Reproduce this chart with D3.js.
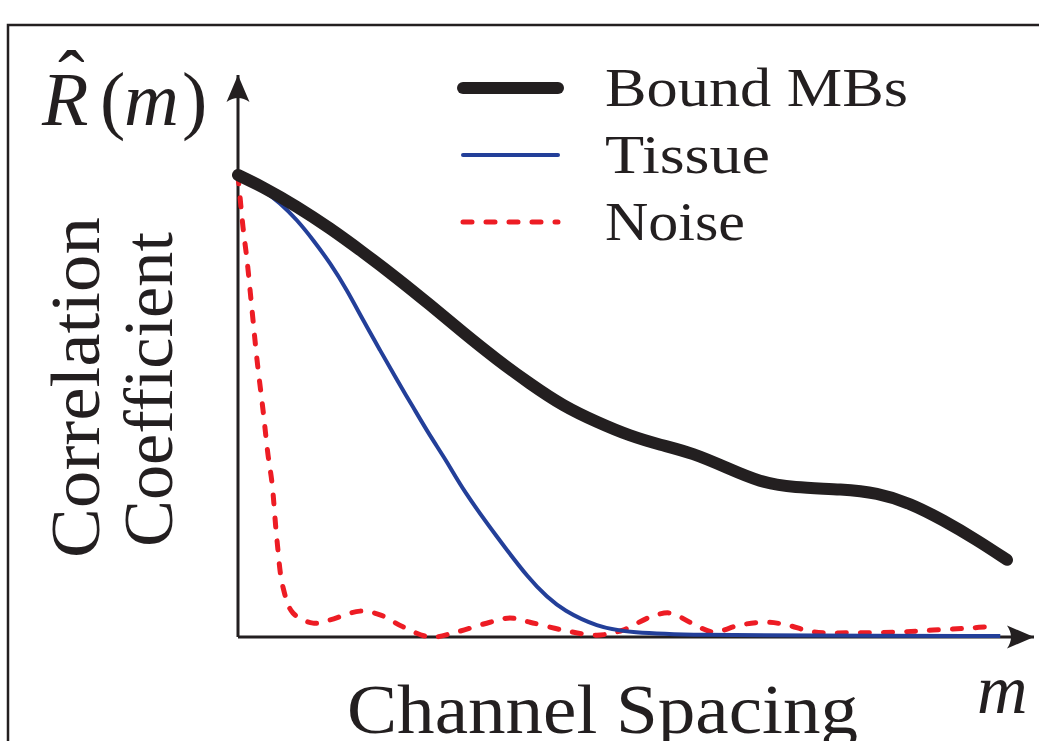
<!DOCTYPE html>
<html>
<head>
<meta charset="utf-8">
<script src="https://cdn.jsdelivr.net/npm/d3@7"></script>
<style>
  body { margin: 0; background: #fff; }
  text { font-family: "Liberation Serif", "Times New Roman", serif; fill: #231f20; }
</style>
</head>
<body>
<div id="chart"></div>
<script>
// Series: channel spacing m (0..100, arbitrary units) and correlation coefficient
const boundM = [0, 3.25, 7.66, 11.95, 16.23, 20.65, 24.94, 29.22, 33.64, 37.92, 42.21, 46.62, 50.91, 54.81, 59.09, 63.51, 67.79, 72.08, 78.57, 82.99, 87.27, 91.56, 95.97, 99.87];
const boundR = [1.0, 0.974, 0.932, 0.885, 0.833, 0.777, 0.719, 0.659, 0.600, 0.548, 0.500, 0.465, 0.435, 0.416, 0.398, 0.366, 0.335, 0.323, 0.320, 0.312, 0.290, 0.253, 0.210, 0.167];

const tissueM = [0, 3.25, 5.45, 7.66, 9.74, 11.95, 14.16, 16.23, 18.44, 20.65, 22.73, 24.94, 27.14, 29.22, 33.64, 37.92, 40.13, 42.21, 46.62, 50.91, 60, 73, 99];
const tissueR = [1.0, 0.968, 0.940, 0.903, 0.860, 0.810, 0.751, 0.686, 0.621, 0.556, 0.498, 0.435, 0.380, 0.318, 0.216, 0.123, 0.087, 0.058, 0.022, 0.009, 0.004, 0.003, 0.002];

const noiseM = [0, 0.65, 1.17, 1.82, 2.47, 3.25, 3.9, 4.42, 5.06, 5.84, 7.14, 9.74, 11.95, 15.84, 18.44, 21.43, 24.94, 28.44, 32.73, 35.32, 37.92, 42.21, 46.62, 50.0, 53.51, 56.10, 58.70, 61.69, 65.19, 68.70, 71.30, 74.68, 79.48, 85.97, 90.26, 94.68, 98.57];
const noiseR = [1.0, 0.887, 0.816, 0.708, 0.600, 0.491, 0.394, 0.333, 0.210, 0.108, 0.052, 0.030, 0.037, 0.056, 0.048, 0.022, 0.000, 0.011, 0.032, 0.041, 0.032, 0.015, 0.004, 0.015, 0.043, 0.052, 0.032, 0.011, 0.026, 0.032, 0.026, 0.011, 0.009, 0.011, 0.015, 0.019, 0.024];

const seriesNames = ['Bound MBs', 'Tissue', 'Noise'];
const seriesColors = ['#231f20', '#233f99', '#ed1c24'];

const W = 1039, H = 741;
const ink = '#231f20';

const svg = d3.select('#chart').append('svg')
    .attr('width', W)
    .attr('height', H);

// Escalas
const x = d3.scaleLinear().domain([0, 100]).range([238, 1008]);
const y = d3.scaleLinear().domain([0, 1]).range([637, 175]);

// Marco
svg.append('path')
    .attr('d', `M8,${H + 5} L8,25 L${W + 5},25`)
    .style('fill', 'none')
    .style('stroke', ink)
    .style('stroke-width', 2.5);

// Flecha
const defs = svg.append('defs');
defs.append('marker')
    .attr('id', 'arrow')
    .attr('viewBox', '-28 -13 30 26')
    .attr('refX', 0)
    .attr('refY', 0)
    .attr('markerWidth', 30)
    .attr('markerHeight', 26)
    .attr('markerUnits', 'userSpaceOnUse')
    .attr('orient', 'auto')
    .append('path')
    .attr('d', 'M0,0 L-27,-11.5 Q-19,0 -27,11.5 Z')
    .style('fill', ink);

// Ejes
svg.append('line')
    .attr('x1', x(0)).attr('y1', y(0))
    .attr('x2', x(0)).attr('y2', y(1) - 100)
    .style('stroke', ink)
    .style('stroke-width', 3)
    .attr('marker-end', 'url(#arrow)');

svg.append('line')
    .attr('x1', x(0)).attr('y1', y(0))
    .attr('x2', x(100) + 26).attr('y2', y(0))
    .style('stroke', ink)
    .style('stroke-width', 3)
    .attr('marker-end', 'url(#arrow)');

// Curvas
const smooth = d3.line()
    .x(d => x(d[0]))
    .y(d => y(d[1]))
    .curve(d3.curveBasis);

const wavy = d3.line()
    .x(d => x(d[0]))
    .y(d => y(d[1]))
    .curve(d3.curveCatmullRom.alpha(0.5));

const zip = (a, b) => a.map((v, i) => [v, b[i]]);

svg.append('path')
    .datum(zip(noiseM, noiseR))
    .attr('d', wavy)
    .style('fill', 'none')
    .style('stroke', seriesColors[2])
    .style('stroke-width', 5)
    .style('stroke-linecap', 'round')
    .style('stroke-dasharray', '9,14');

svg.append('path')
    .datum(zip(tissueM, tissueR))
    .attr('d', smooth)
    .style('fill', 'none')
    .style('stroke', seriesColors[1])
    .style('stroke-width', 4);

svg.append('path')
    .datum(zip(boundM, boundR))
    .attr('d', smooth)
    .style('fill', 'none')
    .style('stroke', seriesColors[0])
    .style('stroke-width', 12)
    .style('stroke-linecap', 'round');

// Leyenda
const legendY = [88, 155, 222];
const legendW = [12, 4, 5];
const legendTextLen = [303, 165, 140];
const legend = svg.append('g');
seriesNames.forEach((name, i) => {
    legend.append('line')
        .attr('x1', 463).attr('x2', 558)
        .attr('y1', legendY[i]).attr('y2', legendY[i])
        .style('stroke', seriesColors[i])
        .style('stroke-width', legendW[i])
        .style('stroke-linecap', 'round')
        .style('stroke-dasharray', i === 2 ? '9,14' : null);
    legend.append('text')
        .attr('x', 605)
        .attr('y', legendY[i] + 18)
        .attr('font-size', 54)
        .attr('textLength', legendTextLen[i])
        .attr('lengthAdjust', 'spacingAndGlyphs')
        .text(name);
});

// Etiquetas
svg.append('text')
    .attr('x', 347)
    .attr('y', 733)
    .attr('font-size', 70)
    .attr('textLength', 511)
    .attr('lengthAdjust', 'spacingAndGlyphs')
    .text('Channel Spacing');

svg.append('text')
    .attr('x', 977)
    .attr('y', 713)
    .attr('font-size', 70)
    .style('font-style', 'italic')
    .text('m');

const ylab = svg.append('g');
ylab.append('text')
    .attr('transform', 'translate(99,558) rotate(-90)')
    .attr('font-size', 70)
    .attr('textLength', 341)
    .attr('lengthAdjust', 'spacingAndGlyphs')
    .text('Correlation');
ylab.append('text')
    .attr('transform', 'translate(172,547) rotate(-90)')
    .attr('font-size', 70)
    .attr('textLength', 315)
    .attr('lengthAdjust', 'spacingAndGlyphs')
    .text('Coefficient');

// R-hat(m)
const rm = svg.append('text')
    .attr('y', 125)
    .attr('font-size', 76);
rm.append('tspan').attr('x', 42).style('font-style', 'italic').text('R');
rm.append('tspan').attr('x', 58).attr('y', 106).attr('font-size', 80).text('ˆ');
rm.append('tspan').attr('x', 100).attr('y', 125).text('(');
rm.append('tspan').attr('x', 124).attr('y', 125).style('font-style', 'italic').text('m');
rm.append('tspan').attr('x', 182).attr('y', 125).text(')');
</script>
</body>
</html>
